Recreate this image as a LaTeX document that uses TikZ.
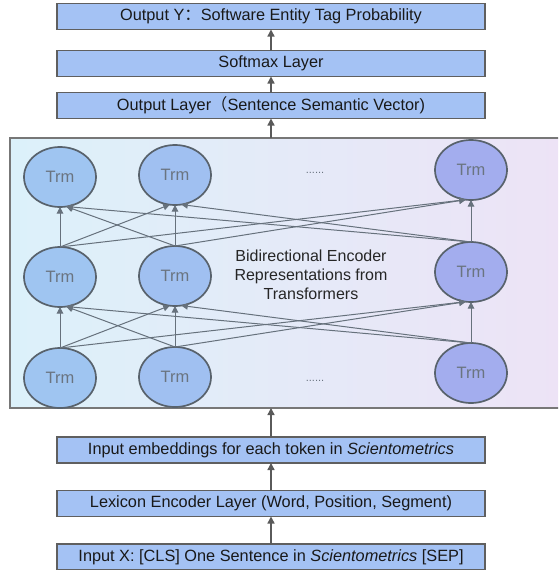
\documentclass[tikz,border=0pt]{standalone}
\usepackage{fontspec}
\setmainfont{Liberation Sans}
\newfontfamily\cjk{Noto Sans CJK SC}
\usetikzlibrary{arrows.meta,shapes.geometric}
\definecolor{boxfill}{HTML}{A4C2F4}
\definecolor{boxline}{HTML}{5F5F5F}
\definecolor{arrowc}{HTML}{5A5A5A}
\definecolor{ellline}{HTML}{58626C}
\definecolor{conncol}{HTML}{66717C}
\definecolor{trmtext}{HTML}{6A7480}
\definecolor{ellA}{HTML}{9FC5F1}
\definecolor{ellB}{HTML}{A0C0F1}
\definecolor{ellC}{HTML}{A3ADEE}
\definecolor{encL}{HTML}{DCF1FA}
\definecolor{encR}{HTML}{EDE3F6}
\definecolor{encline}{HTML}{777777}
\tikzset{
  layerbox/.style={draw=boxline, line width=1.2pt, fill=boxfill, minimum width=428pt, minimum height=26pt, inner sep=0pt, outer sep=0pt, font=\fontsize{16.3}{19}\selectfont, text=black!90},
  trm/.style={ellipse, draw=ellline, line width=1.7pt, minimum width=72pt, minimum height=60pt, inner sep=0pt, outer sep=0pt, text=trmtext, font=\fontsize{16.5}{19}\selectfont},
  uparrow/.style={draw=arrowc, line width=1.4pt, -{Triangle[length=7pt,width=7pt]}},
  conn/.style={draw=conncol, line width=1pt, -{Triangle[length=6.5pt,width=6.5pt]}}
}
\begin{document}
\begin{tikzpicture}[x=1pt,y=-1pt]
\useasboundingbox (0,0) rectangle (558,570);
\clip (0,0) rectangle (558,570);
\fill[white] (0,0) rectangle (558,570);
% layer boxes
\node[layerbox] (outy) at (271,16.5) {Output Y{\cjk ：}Software Entity Tag Probability};
\node[layerbox] (soft) at (271,63.5) {Softmax Layer};
\node[layerbox] (outl) at (271,105.5) {Output Layer{\cjk （}Sentence Semantic Vector)};
\node[layerbox] (emb) at (271,450) {Input embeddings for each token in \textit{Scientometrics}};
\node[layerbox] (lex) at (271,503.5) {Lexicon Encoder Layer (Word, Position, Segment)};
\node[layerbox] (inx) at (271,557) {Input X: [CLS] One Sentence in \textit{Scientometrics} [SEP]};
% encoder frame
\node[draw=encline, line width=1.3pt, left color=encL, right color=encR, minimum width=555pt, minimum height=270pt, inner sep=0pt, outer sep=0pt] (enc) at (287.5,273) {};
% Trm nodes
\node[trm, fill=ellA] (t1) at (60,177) {Trm};
\node[trm, fill=ellB] (t2) at (175,175) {Trm};
\node[trm, fill=ellC] (t3) at (471,170) {Trm};
\node[trm, fill=ellA] (m1) at (60,277) {Trm};
\node[trm, fill=ellB] (m2) at (175,276) {Trm};
\node[trm, fill=ellC] (m3) at (471,272) {Trm};
\node[trm, fill=ellA] (b1) at (60,378) {Trm};
\node[trm, fill=ellB] (b2) at (175,377) {Trm};
\node[trm, fill=ellC] (b3) at (471,373) {Trm};
\node[text=trmtext, font=\fontsize{11}{13}\selectfont] (d1) at (315,173) {......};
\node[text=trmtext, font=\fontsize{11}{13}\selectfont] (d2) at (315,381) {......};
\node[align=center, font=\fontsize{16}{19}\selectfont, text=black!85] (bert) at (311,275) {Bidirectional Encoder\\Representations from\\Transformers};
% connections middle -> top
\draw[conn] (m1.north) -- (t1.south);
\draw[conn] (m1.north) -- (t2.-100);
\draw[conn] (m1.north) -- (t3.-100);
\draw[conn] (m2.north) -- (t1.-78);
\draw[conn] (m2.north) -- (t2.south);
\draw[conn] (m2.north) -- (t3.-100);
\draw[conn] (m3.north) -- (t1.-78);
\draw[conn] (m3.north) -- (t2.-78);
\draw[conn] (m3.north) -- (t3.south);
% connections bottom -> middle
\draw[conn] (b1.north) -- (m1.south);
\draw[conn] (b1.north) -- (m2.-100);
\draw[conn] (b1.north) -- (m3.-100);
\draw[conn] (b2.north) -- (m1.-78);
\draw[conn] (b2.north) -- (m2.south);
\draw[conn] (b2.north) -- (m3.-100);
\draw[conn] (b3.north) -- (m1.-78);
\draw[conn] (b3.north) -- (m2.-78);
\draw[conn] (b3.north) -- (m3.south);
% layer arrows
\draw[uparrow] (inx.north) -- (lex.south);
\draw[uparrow] (lex.north) -- (emb.south);
\draw[uparrow] (emb.north) -- (emb.north |- enc.south);
\draw[uparrow] (outl.north |- enc.north) -- (outl.south);
\draw[uparrow] (outl.north) -- (soft.south);
\draw[uparrow] (soft.north) -- (outy.south);
\end{tikzpicture}
\end{document}
